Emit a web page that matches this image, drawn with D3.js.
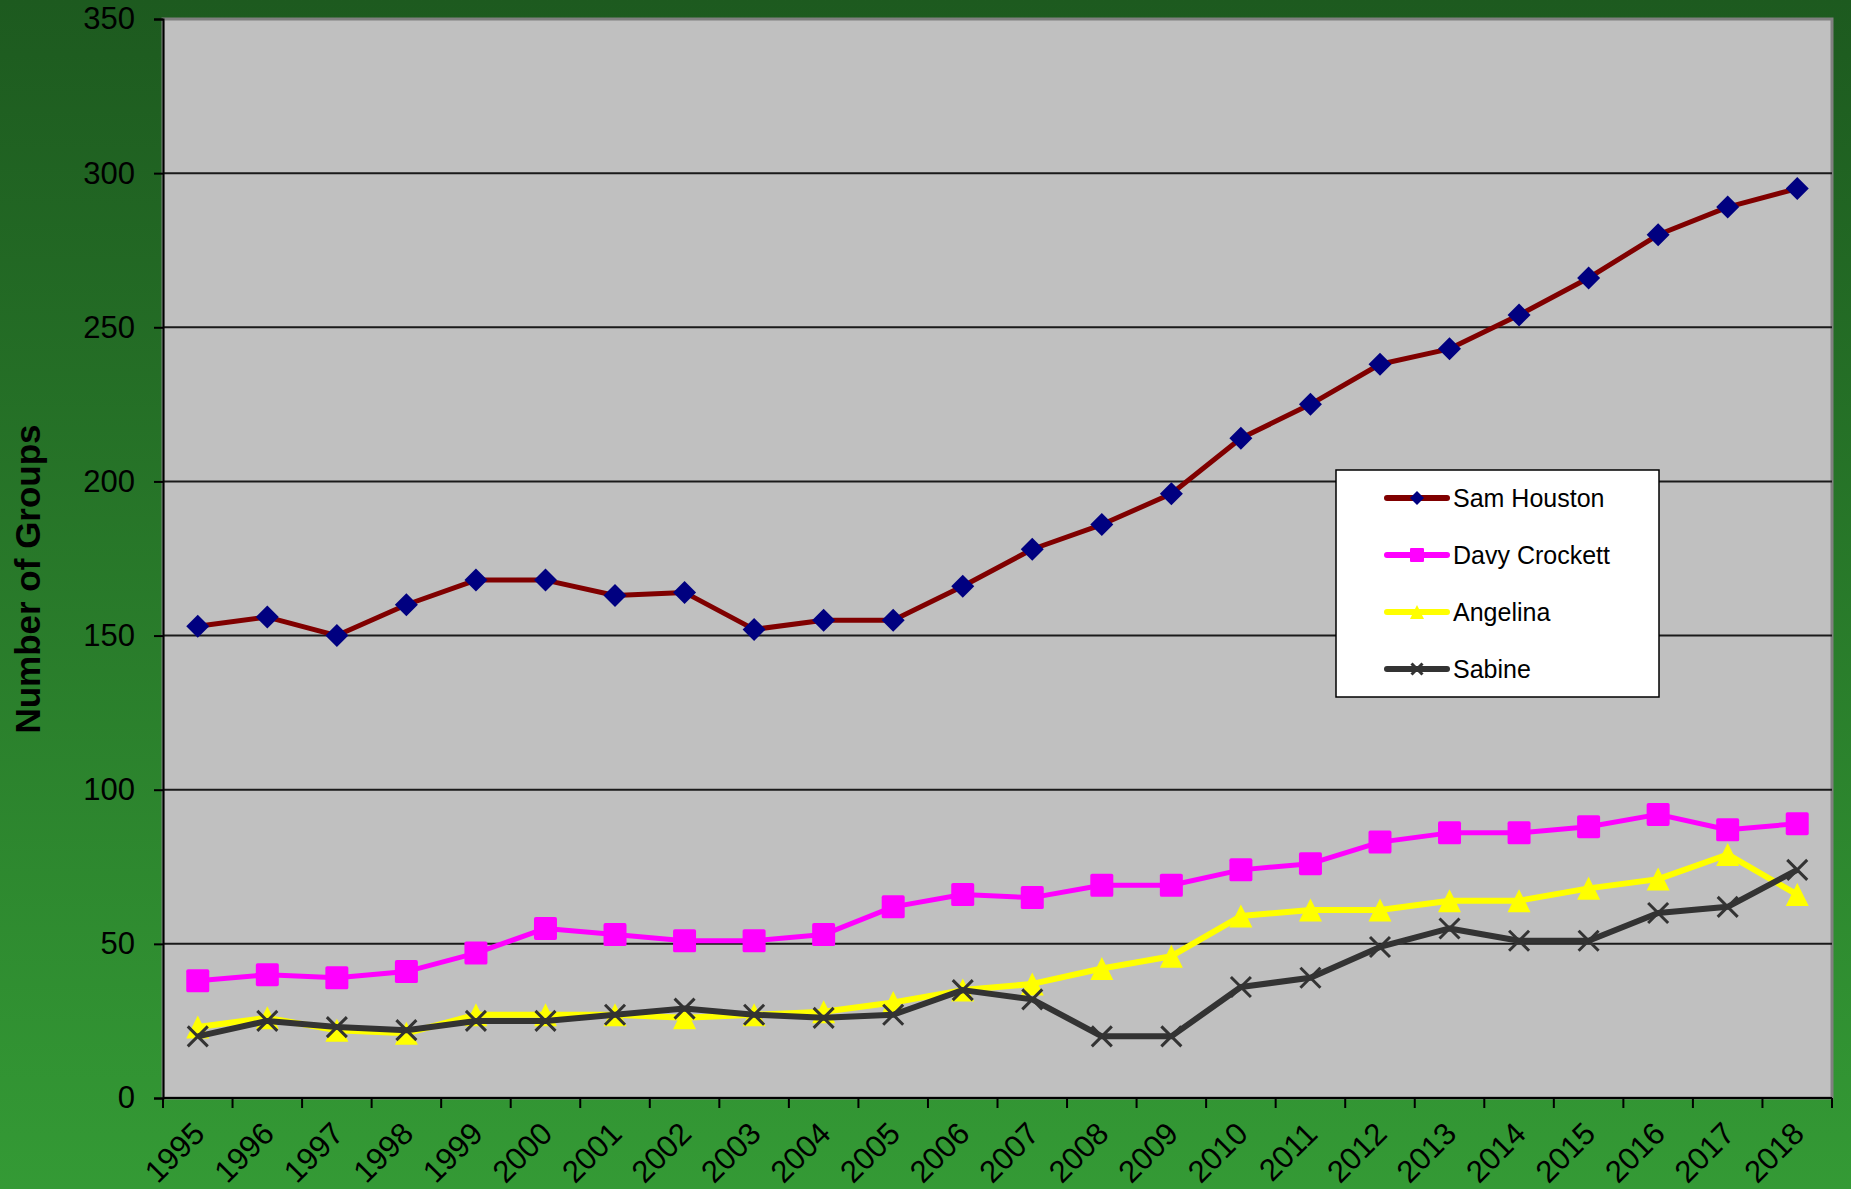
<!DOCTYPE html>
<html>
<head>
<meta charset="utf-8">
<script src="https://cdn.jsdelivr.net/npm/d3@7"></script>
<style>
  html, body { margin: 0; padding: 0; background: #2a7a2a; }
  svg { display: block; font-family: "Liberation Sans", Arial, sans-serif; }
</style>
</head>
<body>
<div id="chart"></div>
<script>
// data
const years = ['1995','1996','1997','1998','1999','2000','2001','2002','2003','2004','2005','2006',
  '2007','2008','2009','2010','2011','2012','2013','2014','2015','2016','2017','2018'];
const samHouston = [153,156,150,160,168,168,163,164,152,155,155,166,178,186,196,214,225,238,243,254,266,280,289,295];
const davyCrockett = [38,40,39,41,47,55,53,51,51,53,62,66,65,69,69,74,76,83,86,86,88,92,87,89];
const angelina = [23,26,22,21,27,27,27,26,27,28,31,35,37,42,46,59,61,61,64,64,68,71,79,66];
const sabine = [20,25,23,22,25,25,27,29,27,26,27,35,32,20,20,36,39,49,55,51,51,60,62,74];
const yTicks = [0,50,100,150,200,250,300,350];

const series = [
  { name: 'Sam Houston', values: samHouston, line: '#800000', marker: 'diamond', fill: '#000080' },
  { name: 'Davy Crockett', values: davyCrockett, line: '#ff00ff', marker: 'square', fill: '#ff00ff' },
  { name: 'Angelina', values: angelina, line: '#ffff00', marker: 'triangle', fill: '#ffff00' },
  { name: 'Sabine', values: sabine, line: '#333333', marker: 'x', fill: '#333333' }
];

const width = 1851;
const height = 1189;
const margin = { top: 19, right: 19, bottom: 91, left: 163 };

const svg = d3.select('#chart')
  .append('svg')
  .attr('width', width)
  .attr('height', height);

// green backdrop
const grad = svg.append('defs').append('linearGradient')
  .attr('id', 'bg').attr('x1', 0).attr('y1', 0).attr('x2', 0).attr('y2', 1);
grad.append('stop').attr('offset', '0%').attr('stop-color', '#1d5a1f');
grad.append('stop').attr('offset', '100%').attr('stop-color', '#349a35');
svg.append('rect').attr('width', width).attr('height', height).attr('fill', 'url(#bg)');

const x = d3.scaleBand()
  .domain(years)
  .range([margin.left, width - margin.right])
  .padding(0);

const y = d3.scaleLinear()
  .domain([0, 350])
  .range([height - margin.bottom, margin.top]);

const plotW = width - margin.right - margin.left;
const plotH = height - margin.bottom - margin.top;

// plot area
svg.append('rect')
  .attr('x', margin.left).attr('y', margin.top)
  .attr('width', plotW).attr('height', plotH)
  .attr('fill', '#c0c0c0')
  .attr('stroke', '#808080')
  .attr('stroke-width', 3);

// gridlines
svg.append('g')
  .selectAll('line')
  .data(yTicks.filter(d => d > 0 && d < 350))
  .join('line')
  .attr('x1', margin.left).attr('x2', width - margin.right)
  .attr('y1', d => y(d)).attr('y2', d => y(d))
  .attr('stroke', '#1a1a1a')
  .attr('stroke-width', 2);

// y axis
const yAxis = svg.append('g')
  .attr('transform', `translate(${margin.left},0)`)
  .call(d3.axisLeft(y).tickValues(yTicks).tickSize(9).tickPadding(19));
yAxis.select('.domain').attr('stroke', '#000').attr('stroke-width', 2);
yAxis.selectAll('.tick line').attr('stroke', '#000').attr('stroke-width', 2);
yAxis.selectAll('.tick text')
  .attr('font-size', 31)
  .attr('fill', '#000')
  .attr('font-family', '"Liberation Sans", Arial, sans-serif');

// x axis: ticks between categories, labels at the centre
const baseY = height - margin.bottom;
const xAxis = svg.append('g');
xAxis.append('line')
  .attr('x1', margin.left).attr('x2', width - margin.right)
  .attr('y1', baseY).attr('y2', baseY)
  .attr('stroke', '#000').attr('stroke-width', 2);
xAxis.selectAll('line.tk')
  .data(years.concat(['end']))
  .join('line')
  .attr('class', 'tk')
  .attr('x1', d => d === 'end' ? x.range()[1] : x(d))
  .attr('x2', d => d === 'end' ? x.range()[1] : x(d))
  .attr('y1', baseY).attr('y2', baseY + 10)
  .attr('stroke', '#000').attr('stroke-width', 2);
xAxis.selectAll('text')
  .data(years)
  .join('text')
  .attr('transform', d => `translate(${x(d) + x.bandwidth() / 2 + 1},${baseY + 30}) rotate(-45)`)
  .attr('text-anchor', 'end')
  .attr('dy', '0.35em')
  .attr('font-size', 31)
  .attr('fill', '#000')
  .text(d => d);

// y title
svg.append('text')
  .attr('transform', `translate(40,579) rotate(-90)`)
  .attr('text-anchor', 'middle')
  .attr('font-size', 35)
  .attr('font-weight', 'bold')
  .attr('fill', '#000')
  .text('Number of Groups');

// marker shapes
function drawMarker(g, type, size, color) {
  const h = size / 2;
  if (type === 'diamond') {
    g.append('path').attr('d', `M0,${-h}L${h},0L0,${h}L${-h},0Z`).attr('fill', color);
  } else if (type === 'square') {
    g.append('rect').attr('x', -h).attr('y', -h).attr('width', size).attr('height', size)
      .attr('rx', size * 0.08).attr('fill', color);
  } else if (type === 'triangle') {
    g.append('path').attr('d', `M0,${-h}L${h},${h}L${-h},${h}Z`).attr('fill', color);
  } else {
    g.append('path').attr('d', `M${-h},${-h}L${h},${h}M${h},${-h}L${-h},${h}`)
      .attr('stroke', color).attr('stroke-width', 3).attr('fill', 'none');
  }
}

const line = d3.line()
  .x((d, i) => x(years[i]) + x.bandwidth() / 2)
  .y(d => y(d));

series.forEach(s => {
  const g = svg.append('g');
  g.append('path')
    .datum(s.values)
    .attr('d', line)
    .attr('fill', 'none')
    .attr('stroke', s.line)
    .attr('stroke-width', s.marker === 'diamond' || s.marker === 'square' ? 5 : 6)
    .attr('stroke-linejoin', 'round');
  const size = s.marker === 'x' ? 20 : 23;
  g.selectAll('g.m')
    .data(s.values)
    .join('g')
    .attr('class', 'm')
    .attr('transform', (d, i) => `translate(${x(years[i]) + x.bandwidth() / 2},${y(d)})`)
    .each(function () { drawMarker(d3.select(this), s.marker, size, s.fill); });
});

// legend
const legend = svg.append('g').attr('transform', 'translate(1336,470)');
legend.append('rect')
  .attr('width', 323).attr('height', 227)
  .attr('fill', '#fff').attr('stroke', '#000').attr('stroke-width', 1.5);
series.forEach((s, i) => {
  const row = legend.append('g').attr('transform', `translate(0,${28 + i * 57})`);
  row.append('line')
    .attr('x1', 51).attr('x2', 111)
    .attr('stroke', s.line).attr('stroke-width', 6).attr('stroke-linecap', 'round');
  const m = row.append('g').attr('transform', 'translate(81,0)');
  drawMarker(m, s.marker, s.marker === 'x' ? 11 : 14, s.fill);
  row.append('text')
    .attr('x', 117)
    .attr('dy', '0.35em')
    .attr('font-size', 25)
    .attr('fill', '#000')
    .text(s.name);
});
</script>
</body>
</html>
